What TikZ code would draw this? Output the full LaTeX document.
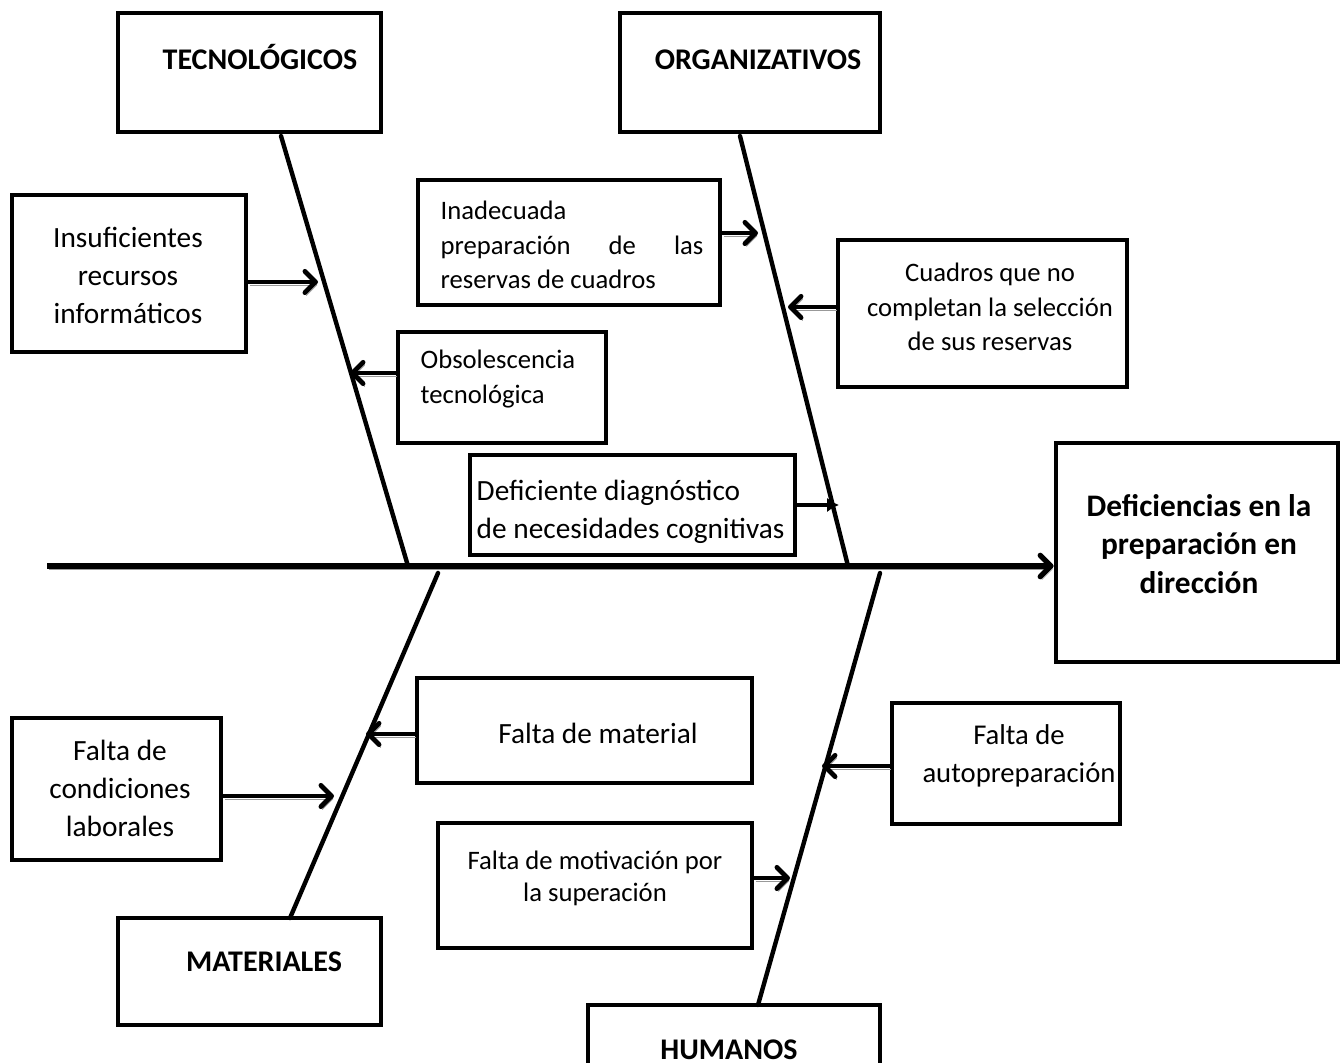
\documentclass[tikz,border=0pt]{standalone}
\usepackage{fontspec}
\setmainfont{Carlito}
\usetikzlibrary{arrows.meta,fit,calc}
\begin{document}
\begin{tikzpicture}[x=0.75pt,y=-0.75pt,
  box/.style={draw,line width=3.6pt,inner sep=0pt,rectangle},
  shadowed/.style={preaction={draw=black!40,transform canvas={shift={(1.5,3)}}}},
  bone/.style={line width=3.3pt,line cap=round},
  chev/.style={-{Straight Barb[length=8pt,width=16pt,line cap=round,line join=round]}},
  spine/.style={line width=4pt,shadowed,chev},
  carrow/.style={line width=3.6pt,shadowed,chev},
  tarrow/.style={line width=3.3pt,-{Latex[length=9pt,width=11pt]}},
  big/.style={font=\fontsize{22}{28.5}\selectfont},
  small/.style={font=\fontsize{20}{26}\selectfont},
  head/.style={font=\fontsize{22.5}{28}\selectfont\bfseries,anchor=base},
  effect/.style={font=\fontsize{23.5}{29}\selectfont\bfseries},
]
\useasboundingbox (0,0) rectangle (1340,1063);

% boxes
\node[box,fit={(118,13) (381,132)}] (tec) {};
\node[box,fit={(620,13) (880,132)}] (org) {};
\node[box,fit={(12,195) (246,352)}] (ins) {};
\node[box,fit={(398,332) (606,443)}] (obs) {};
\node[box,fit={(418,180) (720,305)}] (ina) {};
\node[box,fit={(838,240) (1127,387)}] (cua) {};
\node[box,fit={(470,455) (795,555)}] (dia) {};
\node[box,fit={(1056,443) (1338,662)}] (eff) {};
\node[box,fit={(417,678) (752,783)}] (mat) {};
\node[box,fit={(12,718) (221,860)}] (con) {};
\node[box,fit={(892,703) (1120,824)}] (aut) {};
\node[box,fit={(438,823) (752,948)}] (mot) {};
\node[box,fit={(118,918) (381,1025)}] (mtl) {};
\node[box,fit={(588,1005) (880,1075)}] (hum) {};

% texts
\node[head] (tect) at (260,70) {TECNOLÓGICOS};
\node[head] (orgt) at (758,70) {ORGANIZATIVOS};
\node[head] (mtlt) at (264,971) {MATERIALES};
\node[head] (humt) at (729,1059) {HUMANOS};
\node[big,align=center] (inst) at (128,275) {Insuficientes\\recursos\\informáticos};
\node[small,align=left,anchor=west] (obst) at (416,379) {Obsolescencia\\tecnológica};
\node[small,align=left,anchor=west] (inat) at (436,245) {Inadecuada\\\makebox[197pt][s]{preparación de las}\\reservas de cuadros};
\node[small,align=center] (cuat) at (990,307) {Cuadros que no\\completan la selección\\de sus reservas};
\node[big,align=left,anchor=west] (diat) at (472,512) {Deficiente diagnóstico\\de necesidades cognitivas};
\node[effect,align=center] (efft) at (1199,544) {Deficiencias en la\\preparación en\\dirección};
\node[big] (matt) at (598,733) {Falta de material};
\node[big,align=center] (cont) at (120,788) {Falta de\\condiciones\\laborales};
\node[big,align=center,font=\fontsize{21.5}{28.5}\selectfont] (autt) at (1019,756) {Falta de\\autopreparación};
\node[small,align=center,font=\fontsize{20}{24}\selectfont] (mott) at (595,878) {Falta de motivación por\\la superación};

% spine
\coordinate (sp0) at (47,566);
\draw[spine] (sp0) -- (sp0 -| eff.west);

% bones
\coordinate (t1) at (281,136);
\coordinate (t2) at (408,566);
\coordinate (o1) at (740,136);
\coordinate (o2) at (848,566);
\coordinate (m1) at (438,573);
\coordinate (m2) at (290,918);
\coordinate (h1) at (880,573);
\coordinate (h2) at (758,1005);
\draw[bone] (t1) -- (t2);
\draw[bone] (o1) -- (o2);
\draw[bone] (m1) -- (m2);
\draw[bone] (h1) -- (h2);

% cause arrows
\coordinate (pa) at (318,282);
\coordinate (pb) at (350,373);
\coordinate (pc) at (758,233);
\coordinate (pd) at (788,307);
\coordinate (pe) at (839,505);
\coordinate (pf) at (366,734);
\coordinate (pg) at (334,796);
\coordinate (ph) at (822,766);
\coordinate (pi) at (790,878);
\draw[carrow] (ins.east |- pa) -- (pa);
\draw[carrow] (obs.west |- pb) -- (pb);
\draw[carrow] (ina.east |- pc) -- (pc);
\draw[carrow] (cua.west |- pd) -- (pd);
\draw[tarrow] (dia.east |- pe) -- (pe);
\draw[carrow] (mat.west |- pf) -- (pf);
\draw[carrow] (con.east |- pg) -- (pg);
\draw[carrow] (aut.west |- ph) -- (ph);
\draw[carrow] (mot.east |- pi) -- (pi);
\end{tikzpicture}
\end{document}
